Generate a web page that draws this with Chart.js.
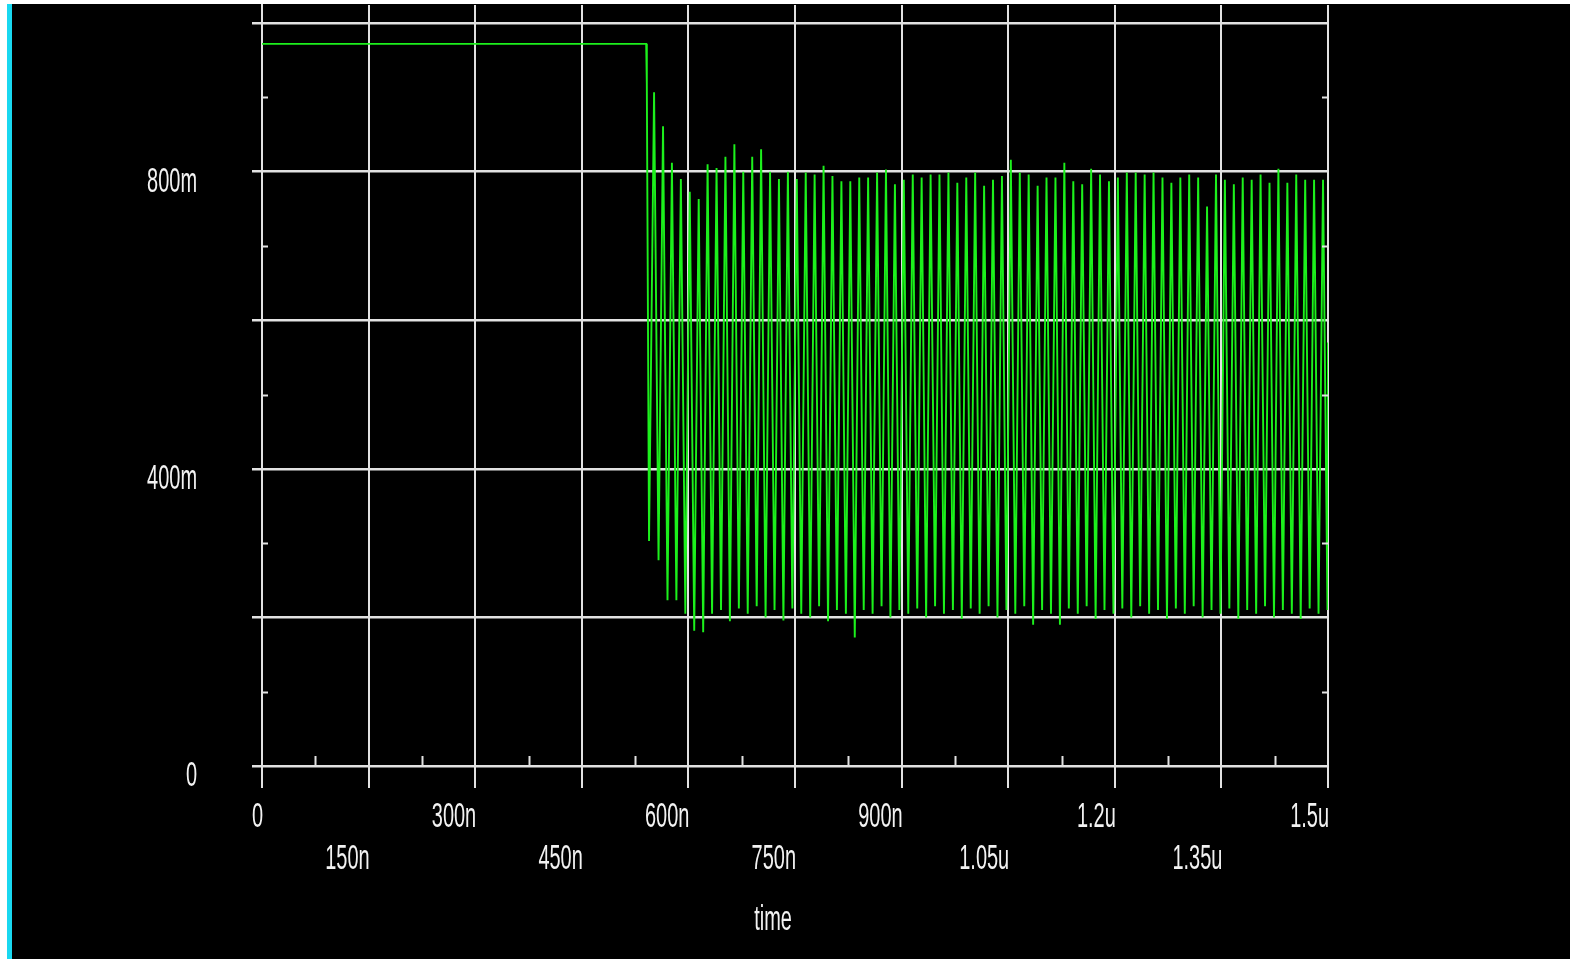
<!DOCTYPE html>
<html>
<head>
<meta charset="utf-8">
<title>time</title>
<script src="https://cdn.jsdelivr.net/npm/chart.js@4.4.1/dist/chart.umd.min.js"></script>
<style>
  html, body { margin: 0; padding: 0; background: #fff; overflow: hidden; }
  #frame {
    position: absolute; left: 7px; top: 4px; width: 1559px; height: 955px;
    background: #000; border-left: 5px solid #19d8f0;
  }
  #wrap { position: absolute; left: 0; top: 0; width: 1570px; height: 959px; }
  #wave { display: block; width: 1570px; height: 959px; }
</style>
</head>
<body>
<div id="frame"></div>
<div id="wrap"><canvas id="wave" width="1570" height="959"></canvas></div>
<script>
// ---- Data (time in ns, voltage in V) ----
const stepTimes  = [0, 540.6, 541.5, 544.6];
const stepValues = [0.972, 0.972, 0.918, 0.303];

const peakTimes = [
  551.7, 564.3, 576.8, 589.4, 601.9, 614.5, 627.0, 639.6, 652.1, 664.7,
  677.2, 689.8, 702.3, 714.9, 727.4, 740.0, 752.5, 765.1, 777.6, 790.2,
  802.7, 815.3, 827.8, 840.4, 852.9, 865.5, 878.0, 890.6, 903.1, 915.7,
  928.2, 940.8, 953.3, 965.9, 978.4, 991.0, 1003.5, 1016.1, 1028.6, 1041.2,
  1053.7, 1066.3, 1078.8, 1091.4, 1103.9, 1116.5, 1129.0, 1141.6, 1154.1, 1166.7,
  1179.2, 1191.8, 1204.3, 1216.9, 1229.4, 1242.0, 1254.5, 1267.1, 1279.6, 1292.2,
  1304.7, 1317.3, 1329.8, 1342.4, 1354.9, 1367.5, 1380.0, 1392.6, 1405.1, 1417.7,
  1430.2, 1442.8, 1455.3, 1467.9, 1480.4, 1493.0
];
const peakValues = [
  0.907, 0.861, 0.812, 0.790, 0.773, 0.763, 0.810, 0.805, 0.820, 0.837,
  0.800, 0.820, 0.830, 0.800, 0.790, 0.800, 0.790, 0.799, 0.796, 0.808,
  0.794, 0.787, 0.787, 0.792, 0.792, 0.799, 0.803, 0.783, 0.789, 0.796,
  0.792, 0.796, 0.796, 0.799, 0.785, 0.792, 0.799, 0.781, 0.789, 0.794,
  0.816, 0.799, 0.796, 0.781, 0.792, 0.792, 0.812, 0.787, 0.783, 0.804,
  0.796, 0.787, 0.792, 0.799, 0.799, 0.796, 0.799, 0.792, 0.785, 0.792,
  0.796, 0.792, 0.753, 0.796, 0.789, 0.783, 0.792, 0.789, 0.796, 0.785,
  0.804, 0.785, 0.796, 0.789, 0.789, 0.789
];
const troughTimes = [
  558.0, 570.6, 583.1, 595.7, 608.2, 620.8, 633.3, 645.9, 658.4, 671.0,
  683.5, 696.1, 708.6, 721.2, 733.7, 746.3, 758.8, 771.4, 783.9, 796.5,
  809.0, 821.6, 834.1, 846.7, 859.2, 871.8, 884.3, 896.9, 909.4, 922.0,
  934.5, 947.1, 959.6, 972.2, 984.7, 997.3, 1009.8, 1022.4, 1034.9, 1047.5,
  1060.0, 1072.6, 1085.1, 1097.7, 1110.2, 1122.8, 1135.3, 1147.9, 1160.4, 1173.0,
  1185.5, 1198.1, 1210.6, 1223.2, 1235.7, 1248.3, 1260.8, 1273.4, 1285.9, 1298.5,
  1311.0, 1323.6, 1336.1, 1348.7, 1361.2, 1373.8, 1386.3, 1398.9, 1411.4, 1424.0,
  1436.5, 1449.1, 1461.6, 1474.2, 1486.7, 1499.3
];
const troughValues = [
  0.277, 0.223, 0.223, 0.205, 0.182, 0.180, 0.205, 0.210, 0.195, 0.212,
  0.205, 0.215, 0.200, 0.210, 0.196, 0.212, 0.205, 0.200, 0.215, 0.195,
  0.210, 0.205, 0.173, 0.210, 0.205, 0.215, 0.200, 0.210, 0.205, 0.212,
  0.200, 0.215, 0.205, 0.210, 0.198, 0.212, 0.205, 0.215, 0.200, 0.210,
  0.205, 0.215, 0.190, 0.210, 0.205, 0.190, 0.212, 0.205, 0.215, 0.198,
  0.210, 0.205, 0.212, 0.200, 0.215, 0.205, 0.210, 0.198, 0.212, 0.205,
  0.215, 0.200, 0.210, 0.205, 0.212, 0.198, 0.210, 0.205, 0.215, 0.200,
  0.210, 0.205, 0.198, 0.212, 0.205, 0.210
];
const tailTimes  = [1500];
const tailValues = [0.57];

// ---- Axis ticks ----
const xMajorTicks  = [0, 150, 300, 450, 600, 750, 900, 1050, 1200, 1350, 1500];
const xTickLabels  = ['0', '150n', '300n', '450n', '600n', '750n', '900n', '1.05u', '1.2u', '1.35u', '1.5u'];
const xMinorTicks  = [75, 225, 375, 525, 675, 825, 975, 1125, 1275, 1425];
const yGridTicks   = [0, 0.2, 0.4, 0.6, 0.8, 1.0];
const yLabelTicks  = [0, 0.4, 0.8];
const yTickLabels  = ['0', '400m', '800m'];
const yMinorTicks  = [0.1, 0.3, 0.5, 0.7, 0.9];
const xTitle = 'time';

const GRID = '#e2e2e2';
const TRACE = '#1cf01c';
const LABEL = '#f2f2f2';

function buildPoints() {
  const pts = [];
  stepTimes.forEach((t, i) => pts.push({ x: t, y: stepValues[i] }));
  peakTimes.forEach((t, i) => {
    pts.push({ x: t, y: peakValues[i] });
    pts.push({ x: troughTimes[i], y: troughValues[i] });
  });
  tailTimes.forEach((t, i) => pts.push({ x: t, y: tailValues[i] }));
  return pts;
}

function isIn(list, v) {
  return list.some(a => Math.abs(a - v) < 1e-6);
}

function narrowText(ctx, text, x, y, align) {
  ctx.save();
  ctx.translate(x, y);
  ctx.scale(0.57, 1);
  ctx.textAlign = align;
  ctx.textBaseline = 'alphabetic';
  ctx.fillText(text, 0, 0);
  ctx.restore();
}

// minor ticks + narrow labels, drawn from the chart's scales
const axisDecor = {
  id: 'axisDecor',
  afterDraw(chart) {
    const ctx = chart.ctx;
    const xs = chart.scales.x;
    const ys = chart.scales.y;
    const area = chart.chartArea;
    ctx.save();
    ctx.strokeStyle = GRID;
    ctx.lineWidth = 2;
    yMinorTicks.forEach(v => {
      const py = Math.round(ys.getPixelForValue(v)) + 0.5;
      ctx.beginPath();
      ctx.moveTo(area.left, py); ctx.lineTo(area.left + 6, py);
      ctx.moveTo(area.right - 6, py); ctx.lineTo(area.right, py);
      ctx.stroke();
    });
    const bottom = ys.getPixelForValue(0);
    xMinorTicks.forEach(v => {
      const px = Math.round(xs.getPixelForValue(v)) + 0.5;
      ctx.beginPath();
      ctx.moveTo(px, bottom); ctx.lineTo(px, bottom - 10);
      ctx.stroke();
    });

    ctx.fillStyle = LABEL;
    ctx.font = '35px "Liberation Sans", Arial, sans-serif';
    yLabelTicks.forEach((v, i) => {
      narrowText(ctx, yTickLabels[i], 197, ys.getPixelForValue(v) + 20, 'right');
    });
    xMajorTicks.forEach((v, i) => {
      const row = i % 2 === 0 ? 827 : 869;
      narrowText(ctx, xTickLabels[i], xs.getPixelForValue(v) + 1, row, 'right');
    });
    narrowText(ctx, xTitle, (area.left + area.right) / 2 - 22, 930, 'center');
    ctx.restore();
  }
};

const canvas = document.getElementById('wave');
new Chart(canvas, {
  type: 'line',
  data: {
    datasets: [{
      data: buildPoints(),
      borderColor: TRACE,
      borderWidth: 1.9,
      pointRadius: 0,
      tension: 0,
      fill: false
    }]
  },
  options: {
    responsive: false,
    animation: false,
    events: [],
    layout: { padding: { left: 252, right: 242, top: 5, bottom: 171 } },
    plugins: { legend: { display: false }, tooltip: { enabled: false } },
    scales: {
      x: {
        type: 'linear',
        min: 0,
        max: 1500,
        z: 1,
        afterFit: (scale) => { scale.height = 22; },
        ticks: { display: false, stepSize: 150 },
        border: { display: false },
        grid: {
          color: ctx => isIn(xMajorTicks, ctx.tick.value) ? GRID : 'rgba(0,0,0,0)',
          lineWidth: 2,
          tickLength: 22,
          drawTicks: true
        }
      },
      y: {
        type: 'linear',
        min: 0,
        max: 1.0243,
        z: 1,
        afterFit: (scale) => { scale.width = 10; },
        ticks: { display: false, stepSize: 0.2, includeBounds: false },
        border: { display: true, color: GRID, width: 2 },
        grid: {
          color: ctx => isIn(yGridTicks, ctx.tick.value) ? GRID : 'rgba(0,0,0,0)',
          lineWidth: 2.5,
          tickLength: 10,
          drawTicks: true
        }
      }
    }
  },
  plugins: [axisDecor]
});
</script>
</body>
</html>
